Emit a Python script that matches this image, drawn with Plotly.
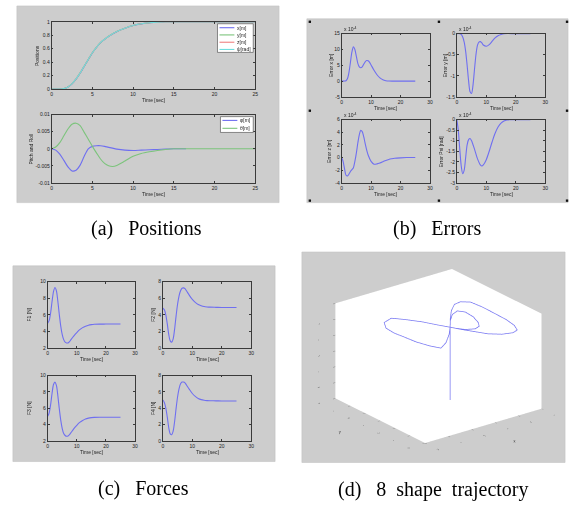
import plotly.graph_objects as go

W, H = 576, 510
def px(x): return x / W
def py(y): return 1 - y / H

# ---------------- data ----------------
# (a) positions
t_pos = [0, 1, 1.5, 2, 2.5, 3, 3.5, 4, 4.5, 5, 5.5, 6, 6.5, 7, 8, 9, 10, 11, 12, 13, 14, 16, 20, 25]
x_pos = [0, 0, 0.004, 0.028, 0.077, 0.146, 0.235, 0.335, 0.436, 0.536, 0.617, 0.687, 0.738, 0.783, 0.853, 0.903, 0.944, 0.969, 0.985, 0.995, 1, 1, 1, 1]
y_pos = [0, 0, 0.005, 0.03, 0.079, 0.149, 0.239, 0.339, 0.439, 0.539, 0.619, 0.689, 0.739, 0.784, 0.854, 0.904, 0.944, 0.97, 0.986, 0.996, 1, 1, 1, 1]
z_pos = [0, 0, 0.005, 0.03, 0.08, 0.15, 0.24, 0.34, 0.44, 0.54, 0.62, 0.69, 0.74, 0.785, 0.855, 0.905, 0.945, 0.97, 0.985, 0.995, 1, 1, 1, 1]
psi_pos = [0, 0, 0.005, 0.03, 0.08, 0.15, 0.24, 0.34, 0.44, 0.54, 0.62, 0.69, 0.74, 0.785, 0.855, 0.905, 0.945, 0.97, 0.985, 0.995, 1, 1, 1, 1]

t_phi = [0, 0.5, 1, 1.5, 2, 2.5, 3, 3.5, 4, 4.5, 5, 5.5, 6, 6.5, 7, 8, 9, 10, 11, 12, 13, 14, 15, 16.5]
phi = [0, -0.0004, -0.0016, -0.0034, -0.0053, -0.0065, -0.0063, -0.0048, -0.0022, 0.0, 0.0007, 0.0009,
       0.0009, 0.0007, 0.0004, -0.0001, -0.0004, -0.0005, -0.0004, -0.0003, -0.0002, -0.0001, 0, 0]
t_theta = [0, 0.5, 1, 1.5, 2, 2.5, 3, 3.5, 4, 4.5, 5, 5.5, 6, 6.5, 7, 7.5, 8, 9, 10, 11, 12, 13, 14, 15, 17, 20, 25]
theta = [0, 0.0005, 0.0018, 0.0038, 0.0058, 0.0072, 0.0075, 0.0068, 0.0048, 0.0028, 0.0007, -0.0012, -0.003,
         -0.0043, -0.005, -0.0052, -0.0049, -0.0036, -0.0022, -0.0014, -0.0009, -0.0005, -0.0002, 0, 0, 0, 0]

# (b) errors (x 1e-4)
t_ex = [0, 1, 1.5, 2, 2.5, 3, 3.5, 4, 4.5, 5, 5.5, 6, 6.5, 7, 7.5, 8, 8.5, 9, 9.5, 10, 11, 12, 13, 14, 15, 16, 20, 25]
err_x = [0, 0, 0.1, 0.8, 2.8, 6.0, 9.2, 10.8, 10.0, 7.8, 5.6, 4.5, 4.2, 4.5, 5.3, 6.1, 6.5, 6.4, 5.9, 5.1,
         3.4, 2.0, 1.0, 0.4, 0.12, 0, 0, 0]
t_ey = [0, 1, 1.5, 2, 2.5, 3, 3.5, 4, 4.5, 5, 5.5, 6, 6.5, 7, 7.5, 8, 8.5, 9, 10, 11, 12, 13, 14, 15, 16, 20, 25]
err_y = [0, 0, -0.02, -0.08, -0.2, -0.42, -0.75, -1.12, -1.38, -1.42, -1.22, -0.85, -0.5, -0.28, -0.2, -0.19,
         -0.22, -0.27, -0.3, -0.26, -0.18, -0.1, -0.05, -0.02, 0, 0, 0]
t_ez = [0, 0.5, 1, 1.5, 2, 2.5, 3, 3.5, 4, 4.5, 5, 5.5, 6, 6.5, 7, 7.5, 8, 8.5, 9, 10, 11, 12, 13, 14, 15, 16, 17,
        18, 20, 22, 25]
err_z = [0, -0.6, -1.8, -2.8, -2.9, -2.6, -2.2, -1.9, -1.6, -0.6, 0.7, 2.3, 3.6, 4.3, 4.1, 3.3, 2.2, 1.2, 0.4,
         -0.6, -1.05, -1.0, -0.85, -0.65, -0.45, -0.3, -0.2, -0.12, -0.05, 0, 0]
t_epsi = [0, 0.5, 1, 1.5, 2, 2.5, 3, 3.5, 4, 4.5, 5, 6, 7, 8, 8.5, 9, 10, 11, 12, 13, 14, 15, 16, 17, 18, 20, 25]
err_psi = [0, -0.5, -1.4, -2.2, -2.57, -2.4, -1.8, -1.2, -0.95, -0.9, -1.0, -1.4, -1.85, -2.15, -2.2, -2.15,
           -1.9, -1.5, -1.05, -0.65, -0.35, -0.17, -0.07, -0.02, 0, 0, 0]

# (c) forces
t_f = [0, 0.5, 1, 1.5, 2, 2.5, 3, 3.5, 4, 4.5, 5, 5.5, 6, 6.5, 7, 7.5, 8, 9, 10, 11, 12, 13, 14, 15, 16, 18, 20, 25]
f1 = [5.0, 5.3, 6.2, 7.6, 8.8, 9.3, 8.9, 7.6, 6.0, 4.6, 3.6, 3.0, 2.7, 2.6, 2.6, 2.75, 3.0, 3.45, 3.85, 4.2,
      4.45, 4.62, 4.74, 4.81, 4.85, 4.87, 4.88, 4.88]
f2 = [4.8, 4.6, 4.0, 2.9, 1.6, 0.85, 0.7, 1.1, 2.3, 3.9, 5.3, 6.3, 6.9, 7.2, 7.25, 7.15, 6.9, 6.35, 5.85, 5.5,
      5.25, 5.1, 5.0, 4.95, 4.92, 4.9, 4.88, 4.88]
f3 = [5.0, 5.4, 6.4, 7.8, 8.9, 9.2, 8.8, 7.5, 5.9, 4.5, 3.5, 2.9, 2.65, 2.55, 2.6, 2.75, 3.0, 3.5, 3.9, 4.25,
      4.5, 4.68, 4.78, 4.84, 4.87, 4.88, 4.88, 4.88]
f4 = [5.0, 4.7, 4.0, 2.9, 1.6, 0.85, 0.75, 1.2, 2.4, 4.0, 5.4, 6.4, 7.0, 7.2, 7.2, 7.1, 6.85, 6.3, 5.8, 5.45,
      5.2, 5.05, 4.97, 4.93, 4.91, 4.9, 4.88, 4.88]

# (d) 3D trajectory: takeoff, first (inner) right loop, left lobe, right lobe
traj_x = [0, 0,
          0, 0.175, 0.375, 0.538, 0.615, 0.592, 0.506, 0.419, 0.293, 0.141, 0.051, 0,
          -0.103, -0.232, -0.398, -0.551, -0.765, -0.890, -0.913, -0.885, -0.857, -0.779, -0.689, -0.475, -0.212, 0,
          0.225, 0.462, 0.675, 0.826, 0.954, 0.981, 0.972, 0.962, 0.915, 0.828, 0.702, 0.512, 0.334, 0.206, 0.090, 0]
traj_y = [0, 0,
          0, 0.270, 0.513, 0.599, 0.452, 0.149, -0.150, -0.319, -0.380, -0.282, -0.121, 0,
          0.241, 0.575, 0.884, 1.114, 1.016, 0.758, 0.455, 0.164, -0.192, -0.538, -0.765, -0.602, -0.295, 0,
          0.348, 0.681, 0.911, 0.945, 0.808, 0.451, 0.004, -0.378, -0.719, -0.953, -1.014, -0.941, -0.750, -0.482,
          -0.227, 0]
traj_z = [0, 2.3,
          2.3, 2.3, 2.3, 2.3, 2.3, 2.3, 2.3, 2.3, 2.3, 2.3, 2.3, 2.3,
          2.3, 2.3, 2.3, 2.3, 2.3, 2.3, 2.3, 2.3, 2.3, 2.3, 2.3, 2.3, 2.3, 2.3,
          2.3, 2.3, 2.3, 2.3, 2.3, 2.3, 2.3, 2.3, 2.3, 2.3, 2.3, 2.3, 2.3, 2.3, 2.3, 2.3]

# tick labels
ticks_t25 = [0, 5, 10, 15, 20, 25]
ticks_t30 = [0, 10, 20, 30]
ticks_pos = [0, 0.2, 0.4, 0.6, 0.8, 1]
ticks_att = [-0.01, -0.005, 0, 0.005, 0.01]
ticks_att_txt = ["-0.01", "-0.005", "0", "0.005", "0.01"]
ticks_ex = [-5, 0, 5, 10, 15]
ticks_ex_txt = ["-5", "0", "5", "10", "15"]
ticks_ey = [-1.5, -1, -0.5, 0]
ticks_ey_txt = ["-1.5", "-1", "-0.5", "0"]
ticks_ez = [-4, -2, 0, 2, 4, 6]
ticks_ez_txt = ["-4", "-2", "0", "2", "4", "6"]
ticks_epsi = [-3, -2.5, -2, -1.5, -1, -0.5, 0]
ticks_epsi_txt = ["-3", "-2.5", "-2", "-1.5", "-1", "-0.5", "0"]
ticks_f13 = [2, 4, 6, 8, 10]
ticks_f24 = [0, 2, 4, 6, 8]
ticks_3d_x = [-1.5, -1, -0.5, 0, 0.5, 1]
ticks_3d_x_txt = ["-1.5", "-1", "-0.5", "0", "0.5", "1"]
ticks_3d_y = [-1.5, -1, -0.5, 0, 0.5, 1, 1.5]
ticks_3d_y_txt = ["-1.5", "-1", "-0.5", "0", "0.5", "1", "1.5"]
ticks_3d_z = [0, 0.5, 1, 1.5, 2, 2.5, 3]

BLUE = '#6f6ff0'
GREEN = '#7cc47c'
RED = '#f08080'
CYAN = '#6fdede'
SANS = 'Liberation Sans'
SERIF = 'Liberation Serif'

# ---------------- subplot specs ----------------
specs = [
    (51, 256, 19, 87, [0, 25], ticks_t25, [0, 1], ticks_pos, [str(v) for v in ticks_pos], 'Positions', 37),
    (51, 256, 113, 182, [0, 25], ticks_t25, [-0.01, 0.01], ticks_att, ticks_att_txt, 'Pitch and Roll', 30),
    (343, 432, 31, 95, [0, 30], ticks_t30, [-5, 15], ticks_ex, ticks_ex_txt, 'Error x [m]', 333),
    (459, 548, 31, 95, [0, 30], ticks_t30, [-1.5, 0], ticks_ey, ticks_ey_txt, 'Error y [m]', 447),
    (343, 432, 118, 182, [0, 30], ticks_t30, [-4, 6], ticks_ez, ticks_ez_txt, 'Error z [m]', 331),
    (459, 548, 118, 182, [0, 30], ticks_t30, [-3, 0], ticks_epsi, ticks_epsi_txt, 'Error Psi [rad]', 443),
    (47, 135, 282, 349, [0, 30], ticks_t30, [2, 10], ticks_f13, [str(v) for v in ticks_f13], 'F1 [N]', 28),
    (163, 252, 282, 349, [0, 30], ticks_t30, [0, 8], ticks_f24, [str(v) for v in ticks_f24], 'F2 [N]', 153),
    (47, 135, 377, 443, [0, 30], ticks_t30, [2, 10], ticks_f13, [str(v) for v in ticks_f13], 'F3 [N]', 28),
    (163, 252, 377, 443, [0, 30], ticks_t30, [0, 8], ticks_f24, [str(v) for v in ticks_f24], 'F4 [N]', 153),
]

common = dict(showgrid=False, zeroline=False, showline=True, linecolor='#3a3a3a', linewidth=0.7,
              mirror='ticks', ticks='inside', ticklen=2, tickwidth=0.6, tickcolor='#3a3a3a',
              tickfont=dict(size=5, color='#222', family=SANS), fixedrange=True)

layout = dict(width=W, height=H, margin=dict(l=0, r=0, t=0, b=0, pad=0),
              paper_bgcolor='white', plot_bgcolor='white', showlegend=False)
annotations = []
shapes = []

for i, (x0, x1, y0, y1, xr, xt, yr, yt, ytt, ytitle, ytx) in enumerate(specs):
    n = '' if i == 0 else str(i + 1)
    layout['xaxis' + n] = dict(common, domain=[px(x0), px(x1)], range=xr, tickvals=xt,
                               ticktext=[str(v) for v in xt], anchor='y' + n)
    layout['yaxis' + n] = dict(common, domain=[py(y1), py(y0)], range=yr, tickvals=yt,
                               ticktext=ytt, anchor='x' + n)
    annotations.append(dict(text='Time [sec]', x=px((x0 + x1) / 2), y=py(y1 + 11), xref='paper', yref='paper',
                            showarrow=False, font=dict(size=5, color='#222', family=SANS),
                            xanchor='center', yanchor='middle'))
    annotations.append(dict(text=ytitle, x=px(ytx), y=py((y0 + y1) / 2), xref='paper', yref='paper',
                            showarrow=False, textangle=-90, font=dict(size=5, color='#222', family=SANS),
                            xanchor='center', yanchor='middle'))
    if 2 <= i <= 5:
        annotations.append(dict(text='x 10<sup>-4</sup>', x=px(x0), y=py(y0 - 5), xref='paper', yref='paper',
                                showarrow=False, font=dict(size=5, color='#222', family=SANS),
                                xanchor='left', yanchor='middle'))

# ---------------- traces ----------------
traces = []
def line(x, y, n, color, w=1.1):
    ax = '' if n == 1 else str(n)
    return go.Scatter(x=x, y=y, xaxis='x' + ax, yaxis='y' + ax, mode='lines',
                      line=dict(color=color, width=w, shape='spline', smoothing=0.8), hoverinfo='skip')

traces += [line(t_pos, x_pos, 1, BLUE), line(t_pos, y_pos, 1, GREEN), line(t_pos, z_pos, 1, RED),
           line(t_pos, psi_pos, 1, CYAN)]
traces += [line(t_phi, phi, 2, BLUE), line(t_theta, theta, 2, GREEN)]
traces += [line(t_ex, err_x, 3, BLUE), line(t_ey, err_y, 4, BLUE), line(t_ez, err_z, 5, BLUE),
           line(t_epsi, err_psi, 6, BLUE)]
traces += [line(t_f, f1, 7, BLUE), line(t_f, f2, 8, BLUE), line(t_f, f3, 9, BLUE), line(t_f, f4, 10, BLUE)]

traces.append(go.Scatter3d(x=traj_x, y=traj_y, z=traj_z, mode='lines', line=dict(color='#7777f2', width=1.5),
                           hoverinfo='skip', scene='scene'))

# ---------------- gray panels ----------------
GRAY = '#cdcdcd'
for (x0, x1, y0, y1) in [(16, 280, 3, 202), (308, 571, 16, 202), (12, 276, 266, 464), (303, 568, 252, 465)]:
    shapes.append(dict(type='rect', xref='paper', yref='paper', x0=px(x0), x1=px(x1), y0=py(y1), y1=py(y0),
                       fillcolor=GRAY, line=dict(color='#c2c2c2', width=0.6), layer='below'))

# selection handles of panel (b)
for (hx, hy) in [(311, 19), (441, 19), (570, 19), (311, 109), (570, 109), (311, 200), (441, 200), (570, 200)]:
    shapes.append(dict(type='rect', xref='paper', yref='paper', x0=px(hx - 1.2), x1=px(hx + 1.2),
                       y0=py(hy + 1.2), y1=py(hy - 1.2), fillcolor='#111', line=dict(width=0), layer='above'))

# ---------------- legends (panel a) ----------------
def legend_box(x0, x1, y0, y1, rows, labels, colors, lx0, lx1, tx):
    shapes.append(dict(type='rect', xref='paper', yref='paper', x0=px(x0), x1=px(x1), y0=py(y1), y1=py(y0),
                       fillcolor='white', line=dict(color='#444', width=0.6), layer='above'))
    for r, lab, c in zip(rows, labels, colors):
        shapes.append(dict(type='line', xref='paper', yref='paper', x0=px(lx0), x1=px(lx1), y0=py(r), y1=py(r),
                           line=dict(color=c, width=1.1), layer='above'))
        annotations.append(dict(text=lab, x=px(tx), y=py(r), xref='paper', yref='paper', showarrow=False,
                                font=dict(size=5, color='#222', family=SANS), xanchor='left', yanchor='middle'))

legend_box(218, 254, 21, 50, [25, 32.3, 39.7, 47], ['x[m]', 'y[m]', 'z[m]', 'ψ[rad]'],
           [BLUE, GREEN, RED, CYAN], 220, 235, 236)
legend_box(221, 254, 115, 131, [118.8, 126.8], ['φ[m]', 'θ[m]'], [BLUE, GREEN], 223, 238, 239)

# ---------------- captions ----------------
NB = '\u00a0'
for text, cx, cy in [('(a)' + NB * 2 + ' Positions', 147, 228), ('(b)' + NB * 2 + ' Errors', 440, 228),
                     ('(c)' + NB * 2 + ' Forces', 143, 491),
                     ('(d)' + NB * 2 + ' 8' + NB + ' shape' + NB + ' trajectory', 435, 492)]:
    annotations.append(dict(text=text, x=px(cx), y=py(cy), xref='paper', yref='paper', showarrow=False,
                            font=dict(size=20, color='black', family=SERIF), xanchor='center', yanchor='middle'))

# ---------------- 3D scene ----------------
ax3 = dict(showbackground=True, backgroundcolor='white', showgrid=False, zeroline=False, showline=False,
           ticks='outside', ticklen=3, tickwidth=1, tickcolor='#888', showspikes=False,
           tickfont=dict(size=4, color='#333', family=SANS))
layout['scene'] = dict(
    domain=dict(x=[px(308.5), px(573.5)], y=[py(463.5), py(250.5)]),
    bgcolor='rgba(0,0,0,0)',
    xaxis=dict(ax3, range=[-1.5, 1], tickvals=ticks_3d_x, ticktext=ticks_3d_x_txt,
               title=dict(text='x', font=dict(size=4, color='#333'))),
    yaxis=dict(ax3, range=[-1.5, 1.5], tickvals=ticks_3d_y, ticktext=ticks_3d_y_txt,
               title=dict(text='y', font=dict(size=4, color='#333'))),
    zaxis=dict(ax3, range=[0, 3], tickvals=ticks_3d_z, ticktext=[str(v) for v in ticks_3d_z],
               title=dict(text='z', font=dict(size=4, color='#333'))),
    aspectmode='manual', aspectratio=dict(x=1.4, y=1.4, z=0.98),
    camera=dict(eye=dict(x=-1.13, y=-1.47, z=0.77), up=dict(x=0, y=0, z=1), center=dict(x=0, y=0, z=0),
                projection=dict(type='orthographic')),
)

layout['annotations'] = annotations
layout['shapes'] = shapes

fig = go.Figure(data=traces, layout=layout)
fig.write_html("out.html", config={'displayModeBar': False},
               post_script="document.body.style.margin='0';document.body.style.overflow='hidden';")
